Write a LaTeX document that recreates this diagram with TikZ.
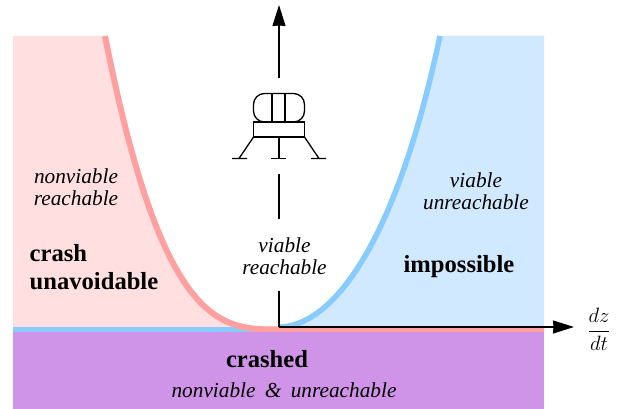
\documentclass[tikz,border=0pt]{standalone}
\usepackage{fontspec}
\setmainfont{Liberation Serif}
\usepackage{amsmath}
\usetikzlibrary{arrows.meta, positioning}
\definecolor{pinkfill}{HTML}{FFDFDF}
\definecolor{pinkline}{HTML}{FFA0A0}
\definecolor{bluefill}{HTML}{D0E9FF}
\definecolor{blueline}{HTML}{88CCFF}
\definecolor{crashfill}{HTML}{CF94E8}
\begin{document}
\begin{tikzpicture}[
  x=1pt, y=-1pt,
  axisline/.style={line width=1.3pt},
  axisarrow/.style={-{Stealth[length=21pt,width=13pt,inset=0.5pt]}, line width=1.3pt},
  boldlabel/.style={font=\fontsize{24.6}{28}\selectfont\bfseries, align=left, inner sep=0pt},
  itlabel/.style={font=\fontsize{21.3}{21.5}\selectfont\itshape, align=center, inner sep=0pt},
  lander/.style={line width=1.3pt}
]
  \useasboundingbox (0,0) rectangle (622,409);
  % regions
  \fill[pinkfill] (13,36) -- (105,36) .. controls (163,327) and (221,327) .. (279,327) -- (13,327) -- cycle;
  \fill[bluefill] (544,36) -- (440,36) .. controls (392,262) and (325,327) .. (279,327) -- (544,327) -- cycle;
  % curves
  \draw[blueline, line width=5.5pt] (440,36) .. controls (392,262) and (325,327) .. (279,327);
  \fill[blueline] (13,327) rectangle (279,332);
  \draw[pinkline, line width=6pt] (105,36) .. controls (163,329.5) and (221,329.5) .. (279,329.5) -- (544,329.5);
  \fill[crashfill] (13,332) rectangle (544,409);
  % axes
  \coordinate (origin) at (279,327);
  \coordinate (xtip) at (574,327);
  \coordinate (ytip) at (279,5);
  \coordinate (ybase) at (279,78);
  \coordinate (gapa) at (279,174);
  \coordinate (gapb) at (279,219);
  \coordinate (gapc) at (279,291);
  \draw[axisarrow] (origin) -- (xtip);
  \draw[axisline] (origin) -- (gapc);
  \draw[axisline] (gapb) -- (gapa);
  \draw[axisarrow] (ybase) -- (ytip);
  % lander
  \draw[lander, rounded corners=11pt] (253.5,93.5) rectangle (304.5,122);
  \draw[lander] (272,93.5) -- (272,122) (285,93.5) -- (285,122);
  \draw[lander] (253.5,122) rectangle (304.5,137);
  \draw[lander] (253.5,137) -- (239,158.5) (232,158.5) -- (247,158.5);
  \draw[lander] (279,137) -- (279,158.5) (271,158.5) -- (286,158.5);
  \draw[lander] (304.5,137) -- (319,158.5) (311,158.5) -- (326,158.5);
  % labels
  \node[itlabel] (viablereach) at (284.5,256) {viable\\reachable};
  \node[itlabel] (nonviablereach) at (76,187) {nonviable\\reachable};
  \node[itlabel] (viableunreach) at (476,191) {viable\\unreachable};
  \node[boldlabel] (unavoid) at (94,267) {crash\\unavoidable};
  \node[boldlabel] (imposs) at (459,267) {impossible};
  \node[boldlabel] (crashed) at (267,359) {crashed};
  \node[itlabel] (nonviableunreach) at (284,390) {nonviable\hspace{4pt} \&\hspace{4pt} unreachable};
  \node[font=\fontsize{22}{26}\selectfont, inner sep=0pt] (dzdt) at (599,329) {$\dfrac{dz}{dt}$};
\end{tikzpicture}
\end{document}
